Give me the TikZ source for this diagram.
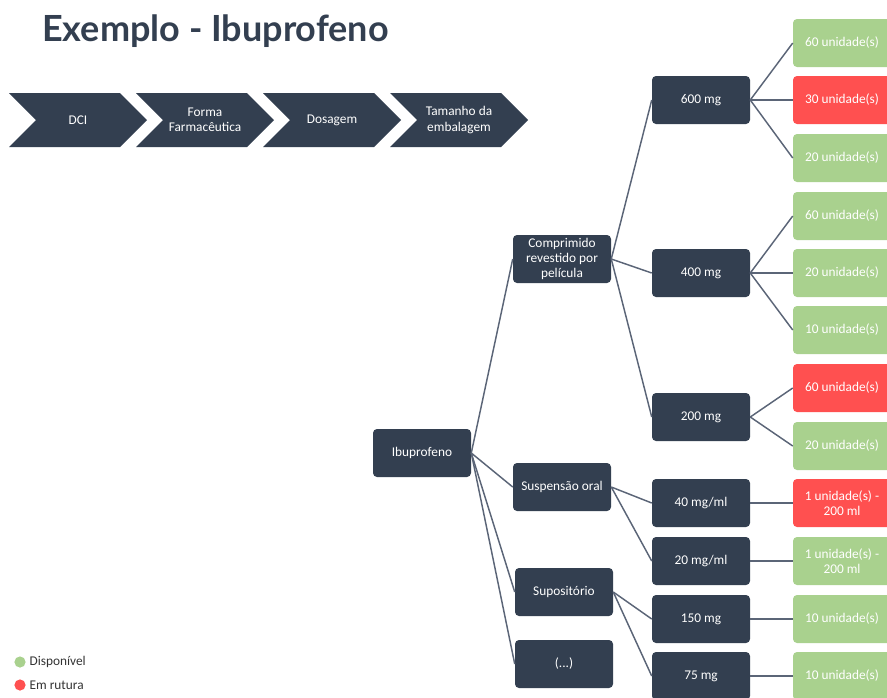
\documentclass[tikz,border=0pt]{standalone}
\usepackage{fontspec}
\setmainfont{Carlito}
\newfontfamily\titlefont{Lato}
\definecolor{dk}{HTML}{333F50}
\definecolor{gr}{HTML}{A9D18E}
\definecolor{rd}{HTML}{FF5050}
\definecolor{ln}{HTML}{5B6577}
\definecolor{lg}{HTML}{333333}
\begin{document}
\begin{tikzpicture}[x=0.75pt,y=-0.75pt,
 box/.style={rounded corners=3pt, minimum width=73.5pt, minimum height=36pt, text=white, font=\fontsize{10}{11.5}\selectfont, align=center, inner sep=1pt},
 dkbox/.style={box, fill=dk},
 okbox/.style={box, fill=gr},
 nobox/.style={box, fill=rd},
 conn/.style={draw=ln, line width=1.1pt},
 chev/.style={fill=dk},
 chevtext/.style={text=white, font=\fontsize{10}{11.5}\selectfont, align=center},
 legtext/.style={anchor=west, text=lg, font=\fontsize{10}{12}\selectfont, inner sep=1pt},
]
\useasboundingbox (0,0) rectangle (887,697);
\clip (0,0) rectangle (887,697);
% title
\node[anchor=west, text=dk, font=\titlefont\bfseries\fontsize{27}{31}\selectfont, inner sep=0pt] (title) at (42,31) {Exemplo - Ibuprofeno};
% chevrons
\foreach \i in {0,1,2,3}{
  \pgfmathsetmacro{\L}{9+127*\i}
  \fill[chev] (\L,93) -- ++(111,0) -- ++(27,27) -- ++(-27,27) -- ++(-111,0) -- ++(27,-27) -- cycle;
}
\node[chevtext] (c1) at (78,120) {DCI};
\node[chevtext] (c2) at (205,120) {Forma\\Farmacêutica};
\node[chevtext] (c3) at (332,120) {Dosagem};
\node[chevtext] (c4) at (459,120) {Tamanho da\\embalagem};
% level 1-2
\node[dkbox] (ibu) at (422,453) {Ibuprofeno};
\node[dkbox] (comp) at (562,259) {Comprimido\\revestido por\\película};
\node[dkbox] (susp) at (562,487) {Suspensão oral};
\node[dkbox] (supo) at (564,592) {Supositório};
\node[dkbox] (etc) at (564,664) {(...)};
% level 3
\node[dkbox] (m600) at (701,100) {600 mg};
\node[dkbox] (m400) at (701,273) {400 mg};
\node[dkbox] (m200) at (701,417) {200 mg};
\node[dkbox] (m40) at (701,503) {40 mg/ml};
\node[dkbox] (m20) at (701,561) {20 mg/ml};
\node[dkbox] (m150) at (701,619) {150 mg};
\node[dkbox] (m75) at (701,676) {75 mg};
% leaves
\node[okbox] (l1) at (842,43) {60 unidade(s)};
\node[nobox] (l2) at (842,100) {30 unidade(s)};
\node[okbox] (l3) at (842,158) {20 unidade(s)};
\node[okbox] (l4) at (842,216) {60 unidade(s)};
\node[okbox] (l5) at (842,273) {20 unidade(s)};
\node[okbox] (l6) at (842,330) {10 unidade(s)};
\node[nobox] (l7) at (842,388) {60 unidade(s)};
\node[okbox] (l8) at (842,446) {20 unidade(s)};
\node[nobox] (l9) at (842,503) {1 unidade(s) -\\200 ml};
\node[okbox] (l10) at (842,561) {1 unidade(s) -\\200 ml};
\node[okbox] (l11) at (842,619) {10 unidade(s)};
\node[okbox] (l12) at (842,676) {10 unidade(s)};
% connectors
\foreach \a/\b in {ibu/comp, ibu/susp, ibu/supo, ibu/etc,
  comp/m600, comp/m400, comp/m200, susp/m40, susp/m20, supo/m150, supo/m75,
  m600/l1, m600/l2, m600/l3, m400/l4, m400/l5, m400/l6, m200/l7, m200/l8,
  m40/l9, m20/l10, m150/l11, m75/l12}
  \draw[conn] (\a.east) -- (\b.west);
% legend
\fill[gr] (20,662) circle[radius=4.2pt];
\node[legtext] (leg1) at (28,662) {Disponível};
\fill[rd] (20,685) circle[radius=4.2pt];
\node[legtext] (leg2) at (28,685) {Em rutura};
\end{tikzpicture}
\end{document}
